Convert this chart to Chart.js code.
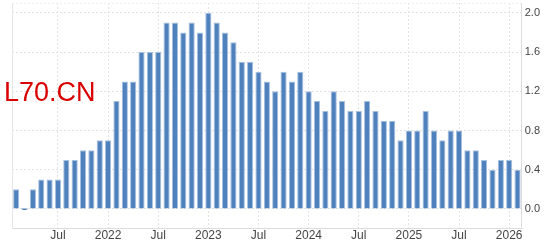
<!DOCTYPE html>
<html>
<head>
<meta charset="utf-8">
<script src="https://cdn.jsdelivr.net/npm/chart.js@4.4.1/dist/chart.umd.min.js"></script>
<style>
  html, body { margin:0; padding:0; background:#fff; }
  #wrap { position:relative; width:550px; height:246px; }
  #title { position:absolute; left:4px; top:79px; font:27px/27px "Liberation Sans", Arial, sans-serif; color:#d90000; }
</style>
</head>
<body>
<div id="wrap">
  <canvas id="chart" width="550" height="246"></canvas>
  <div id="title">L70.CN</div>
</div>
<script>
// ── data ──
var months = [
    '2021-02','2021-03','2021-04','2021-05','2021-06','2021-07','2021-08','2021-09','2021-10','2021-11','2021-12',
    '2022-01','2022-02','2022-03','2022-04','2022-05','2022-06','2022-07','2022-08','2022-09','2022-10','2022-11','2022-12',
    '2023-01','2023-02','2023-03','2023-04','2023-05','2023-06','2023-07','2023-08','2023-09','2023-10','2023-11','2023-12',
    '2024-01','2024-02','2024-03','2024-04','2024-05','2024-06','2024-07','2024-08','2024-09','2024-10','2024-11','2024-12',
    '2025-01','2025-02','2025-03','2025-04','2025-05','2025-06','2025-07','2025-08','2025-09','2025-10','2025-11','2025-12',
    '2026-01','2026-02'
];
var values = [
    0.2,0.0,0.2,0.3,0.3,0.3,0.5,0.5,0.6,0.6,0.7,
    0.7,1.1,1.3,1.3,1.6,1.6,1.6,1.9,1.9,1.8,1.9,1.8,
    2.0,1.9,1.8,1.7,1.5,1.5,1.4,1.3,1.2,1.4,1.3,1.4,
    1.2,1.1,1.0,1.2,1.1,1.0,1.0,1.1,1.0,0.9,0.9,0.7,
    0.8,0.8,1.0,0.8,0.7,0.8,0.8,0.6,0.6,0.5,0.4,0.5,
    0.5,0.4
];
var yTicks = [0.0,0.4,0.8,1.2,1.6,2.0];

var GRID = '#e3e3e3';
var TXT = '#444';

function monthLabel(m) {
    var p = m.split('-');
    return p[1] === '01' ? p[0] : (p[1] === '07' ? 'Jul' : '');
}

// left + top frame lines of the plot area
var frame = {
    id:'frame',
    beforeDatasetsDraw:function(chart) {
        var a = chart.chartArea, ctx = chart.ctx;
        ctx.save();
        ctx.lineWidth = 1;
        ctx.strokeStyle = '#e6e6e6';
        ctx.beginPath(); ctx.moveTo(a.left + 0.5, a.top); ctx.lineTo(a.left + 0.5, a.bottom); ctx.stroke();
        ctx.setLineDash([2,2]);
        ctx.strokeStyle = '#ececec';
        ctx.beginPath(); ctx.moveTo(a.left, a.top + 0.5); ctx.lineTo(a.right, a.top + 0.5); ctx.stroke();
        ctx.restore();
    }
};

new Chart(document.getElementById('chart'), {
    type:'bar',
    data:{labels:months,datasets:[{data:values,backgroundColor:'#4f81bd',borderColor:'#a7c0e0',borderWidth:{left:1,right:1,top:1,bottom:0},borderSkipped:false,minBarLength:2,barPercentage:0.74,categoryPercentage:1}]},
    options:{
        responsive:false,animation:false,
        layout:{padding:{left:12,right:7,top:3,bottom:3}},
        plugins:{legend:{display:false},tooltip:{enabled:false}},
        scales:{
            x:{
                offset:true,
                afterBuildTicks:function(ax){ ax.ticks = ax.ticks.filter(function(t){ return monthLabel(months[t.value]) !== ''; }); },
                ticks:{autoSkip:false,maxRotation:0,padding:0,color:TXT,font:{family:'"Liberation Sans", Arial',size:12},
                    callback:function(v){ return monthLabel(months[v]); }},
                grid:{color:GRID,drawTicks:false,offset:false},
                border:{display:true,color:'#dcdcdc',dash:[2,2]}
            },
            y:{
                position:'right',min:-0.2,max:2.1,
                afterBuildTicks:function(ax){ ax.ticks = yTicks.map(function(v){ return {value:v}; }); },
                afterFit:function(ax){ ax.paddingTop = 0; ax.paddingBottom = 0; },
                ticks:{padding:3,color:TXT,font:{family:'"Liberation Sans", Arial',size:11},
                    callback:function(v){ return v.toFixed(1); }},
                grid:{color:GRID,drawTicks:false},
                border:{display:true,color:'#dcdcdc',dash:[2,2]}
            }
        }
    },
    plugins:[frame]
});
</script>
</body>
</html>
